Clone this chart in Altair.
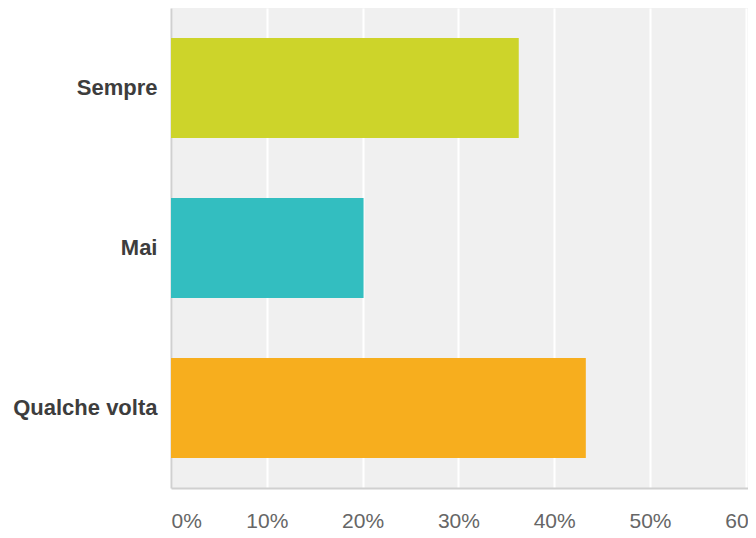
import altair as alt
import pandas as pd

categories = ["Sempre", "Mai", "Qualche volta"]
values = [0.363, 0.201, 0.433]
colors = ["#cdd42a", "#33bec0", "#f7ae1e"]
tick_values = [0, 0.1, 0.2, 0.3, 0.4, 0.5, 0.6]

df = pd.DataFrame({"cat": categories, "val": values})

chart = alt.Chart(df).mark_bar().encode(
    y=alt.Y("cat:N", sort=categories,
            scale=alt.Scale(paddingInner=0.375, paddingOuter=0.1875),
            axis=alt.Axis(title=None, labelFont="Liberation Sans", labelFontWeight="bold",
                          labelFontSize=22, labelColor="#3d3d3d", labelPadding=14,
                          ticks=False, domainColor="#d0d0d0", domainWidth=2, grid=False)),
    x=alt.X("val:Q", scale=alt.Scale(domain=[0, 0.6023], nice=False, zero=True),
            axis=alt.Axis(title=None, values=tick_values, format=".0%",
                          labelFont="Liberation Sans", labelFontSize=21, labelColor="#666666",
                          labelPadding=22, ticks=False, domainColor="#d0d0d0", domainWidth=2,
                          grid=True, gridColor="#ffffff", gridWidth=2)),
    color=alt.Color("cat:N", scale=alt.Scale(domain=categories, range=colors), legend=None),
).properties(
    width=577,
    height=480,
    padding={"left": 163, "top": 0, "right": 0, "bottom": 42},
    autosize=alt.AutoSizeParams(type="none"),
    background="#ffffff",
).configure_view(
    fill="#f0f0f0", strokeWidth=0
)

chart.save("out.html", embed_options={"renderer": "svg", "actions": False})
